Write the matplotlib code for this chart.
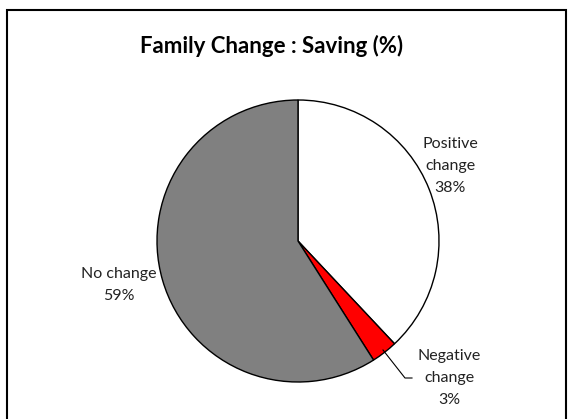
import matplotlib
matplotlib.use("Agg")
import matplotlib.pyplot as plt
from matplotlib.patches import Rectangle

title = "Family Change : Saving (%)"
labels = ["Positive\nchange\n38%", "Negative\nchange\n3%", "No change\n59%"]
values = [38, 3, 59]
colors = ["#FFFFFF", "#FF0000", "#808080"]

W, H = 570, 419
fig = plt.figure(figsize=(W / 100, H / 100), dpi=100)
ax = fig.add_axes([0, 0, 1, 1])
ax.set_xlim(0, W)
ax.set_ylim(0, H)
ax.set_aspect("equal")
ax.axis("off")

plt.rcParams["font.family"] = ["Lato", "DejaVu Sans"]

# outer frame
ax.add_patch(Rectangle((7, -5), 559, H - 10 + 5, fill=False, edgecolor="black", linewidth=1.5))

cx, cy, r = 298, 178, 141
ax.pie(values, colors=colors, startangle=90, counterclock=False,
       center=(cx, cy), radius=r, frame=True,
       wedgeprops=dict(edgecolor="black", linewidth=1.0))
ax.set_xlim(0, W)
ax.set_ylim(0, H)
ax.axis("off")

ax.text(272, 373, title, ha="center", va="center", fontsize=16, fontweight="bold")

ax.text(450, 253, labels[0], ha="center", va="center", fontsize=11.5, linespacing=1.75, color="#222222")
ax.text(119, 134, labels[2], ha="center", va="center", fontsize=11.5, linespacing=1.75, color="#222222",
        bbox=dict(facecolor="white", edgecolor="none", pad=1))
ax.text(449, 41, labels[1], ha="center", va="center", fontsize=11.5, linespacing=1.75, color="#222222")

# leader line for negative change
ax.plot([383, 405, 412], [H - 350, H - 378, H - 378], color="black", linewidth=0.8)

fig.savefig("out.png", dpi=100)
